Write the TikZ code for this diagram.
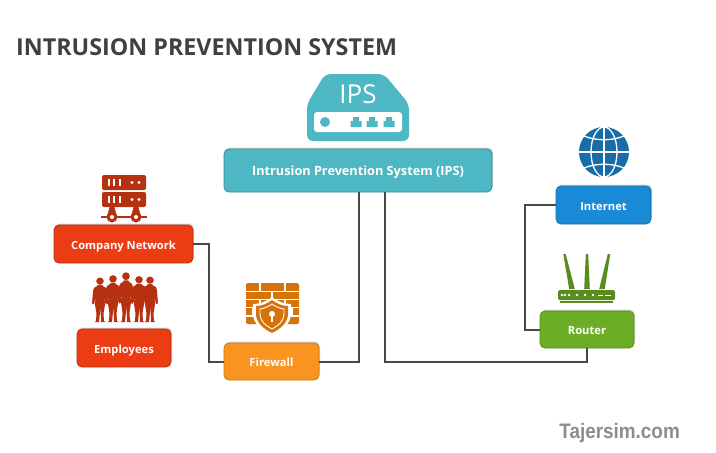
\documentclass[tikz,border=0pt]{standalone}
\usepackage{fontspec}
\setmainfont{Open Sans}
\newfontfamily\markfont{Liberation Sans}
\usetikzlibrary{shadows}
\definecolor{titlecolor}{RGB}{64,64,64}
\definecolor{ipscolor}{RGB}{77,184,196}
\definecolor{ipsdark}{RGB}{52,140,150}
\definecolor{redcolor}{RGB}{235,60,20}
\definecolor{reddark}{RGB}{181,49,15}
\definecolor{orangecolor}{RGB}{250,148,32}
\definecolor{orangedark}{RGB}{214,115,10}
\definecolor{bluecolor}{RGB}{24,138,214}
\definecolor{bluedark}{RGB}{24,108,168}
\definecolor{greencolor}{RGB}{108,173,38}
\definecolor{greendark}{RGB}{88,140,30}
\definecolor{linecolor}{RGB}{72,72,72}
\tikzset{
  box/.style={rounded corners=5pt,draw=#1,line width=0.8pt,align=center,text=white,
    font=\fontsize{11.2}{14}\selectfont\bfseries,inner sep=0pt,text height=11pt,text depth=1pt,
    drop shadow={shadow xshift=1pt,shadow yshift=1.5pt,opacity=.35}},
  wire/.style={linecolor,line width=2pt},
  person/.pic={
    \fill (0,-44.5) circle (3.8);
    \fill (-2,-40.5) -- (2,-40.5) -- (3,-39) .. controls (5.5,-38.5) and (6.5,-37) .. (7,-33)
      -- (8,-20) -- (6,-19) -- (4.5,-27) -- (5,-19) -- (3.5,-9) -- (4,-1) -- (5.5,0) -- (1,0)
      -- (0.5,-16) -- (-1,0) -- (-5.5,0) -- (-4,-1) -- (-3.5,-9) -- (-5,-19) -- (-4.5,-27)
      -- (-6,-19) -- (-8,-20) -- (-7,-33) .. controls (-6.5,-37) and (-5.5,-38.5) .. (-3,-39) -- cycle;
  }
}
\begin{document}
\begin{tikzpicture}[x=1pt,y=-1pt]
\useasboundingbox (0,0) rectangle (716,453);
\node[anchor=west,text=titlecolor,font=\fontsize{23.3}{26}\selectfont\bfseries,inner sep=0pt] (title) at (16,47) {INTRUSION PREVENTION SYSTEM};
% ips icon
\fill[ipscolor,rounded corners=6pt] (325,74) -- (384,74) -- (409,104) -- (409,141) -- (307,141) -- (307,104) -- cycle;
\node[text=white,font=\fontsize{26}{30}\selectfont,inner sep=0pt] (ipslabel) at (358,94) {IPS};
\fill[white,rounded corners=3pt] (314,112) rectangle (402,132);
\fill[ipscolor] (325,122) circle (5);
\foreach \x in {356,372,389} {
    \fill[ipscolor] (\x-5.5,121) -- (\x-3,121) -- (\x-3,117) -- (\x+3,117) -- (\x+3,121) -- (\x+5.5,121) -- (\x+5.5,127) -- (\x-5.5,127) -- cycle;
}
% server icon
\foreach \y in {175,192} {
    \fill[reddark,rounded corners=2pt] (102,\y) rectangle (146,\y+15);
    \foreach \x in {107.5,113,118.5} {
        \fill[white] (\x,\y+4) rectangle (\x+2.4,\y+11);
    }
    \fill[white] (132,\y+7.5) circle (1.7);
    \fill[white] (139,\y+7.5) circle (1.7);
}
\fill[reddark] (109.5,207) -- (114.5,207) -- (117,217) -- (107,217) -- cycle;
\fill[reddark] (133.5,207) -- (138.5,207) -- (141,217) -- (131,217) -- cycle;
\fill[reddark] (101,215.6) rectangle (147,218.4);
\foreach \x in {112,136} {
    \fill[reddark] (\x,217) circle (5.5);
    \fill[white] (\x,217) circle (2);
}
% people
\foreach \x/\s in {100/0.92,139/0.95,113/0.97,150/0.94,126/1.03} {
    \path (\x,322) pic[reddark,yscale=\s] {person};
}
% firewall icon
\fill[orangedark,rounded corners=2pt] (246,283) rectangle (299,324);
\foreach \y in {291.2,299.4,307.6,315.8} {
    \draw[white,line width=1.4pt] (246,\y) -- (299,\y);
}
\foreach \x/\y in {260/283,285/283,272/291.2,260/299.4,285/299.4,253/307.6,292/307.6,260/315.8,285/315.8} {
    \draw[white,line width=1.4pt] (\x,\y) -- (\x,\y+8.2);
}
\fill[white] (272,297) .. controls (278,302) and (285,304) .. (291,304) -- (291,314) .. controls (291,324) and (281,331) .. (272,335) .. controls (263,331) and (253,324) .. (253,314) -- (253,304) .. controls (259,304) and (266,302) .. (272,297) -- cycle;
\fill[orangedark] (272,300) .. controls (277,304) and (283,306) .. (288,306) -- (288,314) .. controls (288,323) and (280,329) .. (272,333) .. controls (264,329) and (256,323) .. (256,314) -- (256,306) .. controls (261,306) and (267,304) .. (272,300) -- cycle;
\draw[white,line width=0.9pt] (272,304) .. controls (276,307) and (280,308.5) .. (284,309) -- (284,314) .. controls (284,321) and (278,326) .. (272,329) .. controls (266,326) and (260,321) .. (260,314) -- (260,309) .. controls (264,308.5) and (268,307) .. (272,304) -- cycle;
\fill[white] (272,314) circle (3);
\fill[white] (270.8,315) rectangle (273.2,322);
% globe
\fill[bluedark] (604,152) circle (25);
\draw[white,line width=1.3pt] (579,152) -- (629,152);
\draw[white,line width=1.3pt] (604,127) -- (604,177);
\draw[white,line width=1.3pt] (604,152) ellipse (13 and 25);
\draw[white,line width=1.3pt] (584,136) .. controls (596,141) and (612,141) .. (624,136);
\draw[white,line width=1.3pt] (584,168) .. controls (596,163) and (612,163) .. (624,168);
% router icon
\fill[greendark,rounded corners=1.5pt] (558,290) rectangle (615,300);
\fill[greendark] (560,301) rectangle (613,303);
\foreach \x/\xa in {572/564.5,587/587,602/609} {
    \fill[greendark] (\x-2.8,289) -- (\xa-1.2,254) -- (\xa+1.2,254) -- (\x+2.8,289) -- cycle;
}
\foreach \x in {562,565,569,577,585,593} {
    \fill[white] (\x,295) circle (1.3);
}
\fill[white] (598,294.5) rectangle (603,295.5);
\fill[white] (605,294.5) rectangle (611,295.5);
% boxes
\node[box=ipsdark,fill=ipscolor,minimum width=268pt,minimum height=43pt,font=\fontsize{12.7}{14}\selectfont\bfseries] (ips) at (358,170.5) {Intrusion Prevention System (IPS)};
\node[box=reddark,fill=redcolor,minimum width=139pt,minimum height=38pt] (company) at (123.5,244) {Company Network};
\node[box=reddark,fill=redcolor,minimum width=94pt,minimum height=38pt] (employees) at (124,348) {Employees};
\node[box=orangedark,fill=orangecolor,minimum width=95pt,minimum height=37pt] (firewall) at (271.5,361.5) {Firewall};
\node[box=bluedark,fill=bluecolor,minimum width=95pt,minimum height=38pt] (internet) at (603.5,205) {Internet};
\node[box=greendark,fill=greencolor,minimum width=94pt,minimum height=37pt] (router) at (587,329.5) {Router};
% connectors
\coordinate (ipsleft) at (359,192);
\coordinate (ipsright) at (385,192);
\coordinate (leftbend) at (209,300);
\coordinate (rightbend) at (525,270);
\draw[wire] (firewall.east) -| (ipsleft);
\draw[wire] (router.south) -- ++(0,14) -| (ipsright);
\draw[wire] (company.east) -| (leftbend) |- (firewall.west);
\draw[wire] (internet.west) -| (rightbend) |- (router.west);
\node[anchor=east,text=black!45,font=\markfont\fontsize{21}{24}\selectfont\bfseries,inner sep=0pt,xscale=0.9] (mark) at (680,433) {Tajersim.com};
\end{tikzpicture}
\end{document}
